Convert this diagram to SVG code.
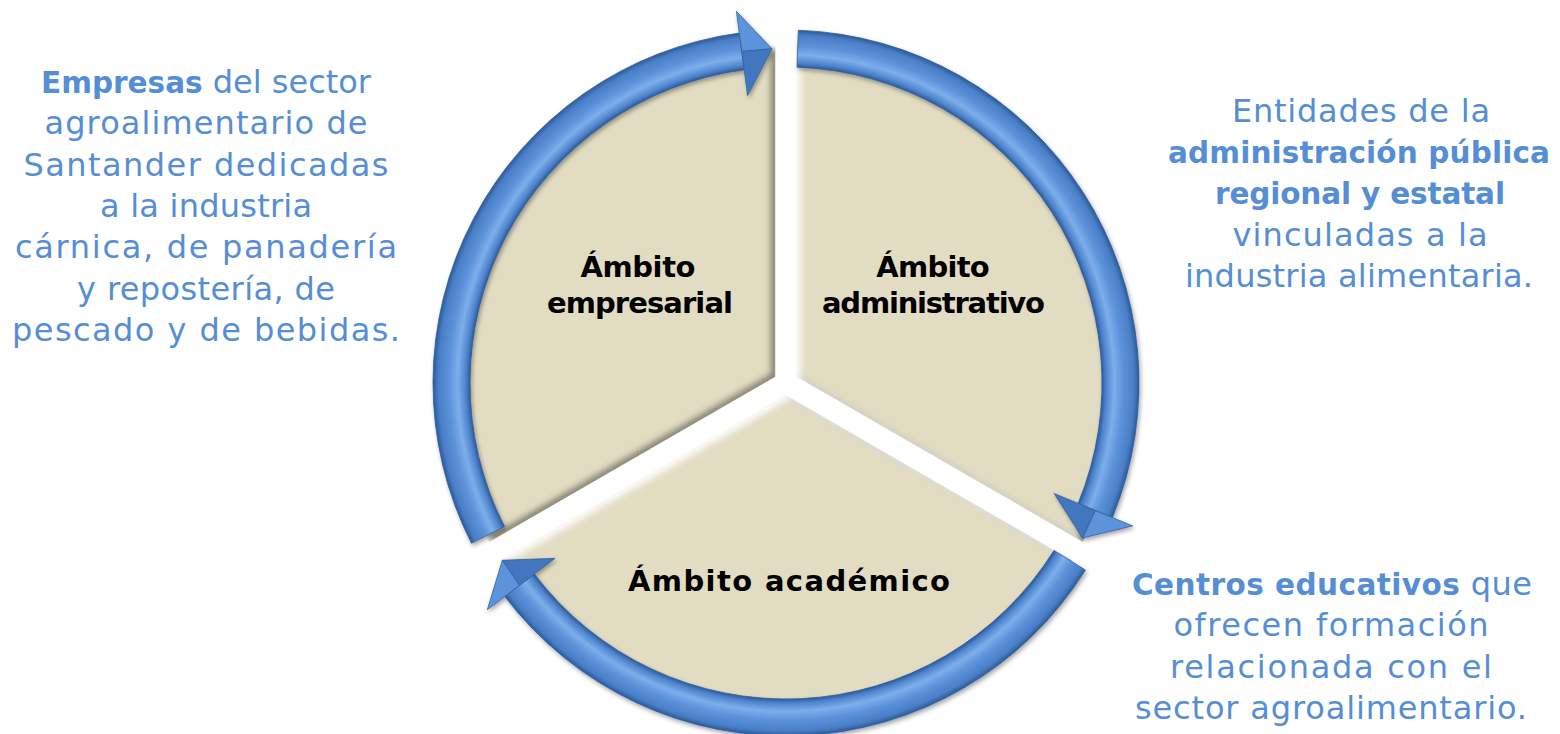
<svg xmlns="http://www.w3.org/2000/svg" width="1560" height="734" viewBox="0 0 1560 734">
  <defs>
    <style>
      .sector { fill: #E2DDC2; filter: url(#bevel); }
      .label { font-family: "DejaVu Sans", "Liberation Sans", sans-serif; font-weight: bold; font-size: 29px; fill: #000; text-anchor: middle; }
      .desc { font-family: "DejaVu Sans", "Liberation Sans", sans-serif; font-size: 32px; fill: #558ED5; text-anchor: middle; }
      .desc .b { font-weight: bold; font-size: 29.5px; }
      .body { fill: url(#tube); stroke: #2F5E9F; stroke-width: 0.8; }
      .headOut { fill: #5C93DB; stroke: #33619F; stroke-width: 0.8; stroke-linejoin: round; }
      .headIn { fill: #4276BF; stroke: #33619F; stroke-width: 0.8; stroke-linejoin: round; }
    </style>
    <radialGradient id="tube" gradientUnits="userSpaceOnUse" cx="786" cy="383" r="353">
      <stop offset="0.895" stop-color="#2E5A99"/>
      <stop offset="0.907" stop-color="#4D83CC"/>
      <stop offset="0.93" stop-color="#7DAEEB"/>
      <stop offset="0.955" stop-color="#5C92DA"/>
      <stop offset="0.985" stop-color="#4A7FC7"/>
      <stop offset="1" stop-color="#2C5A98"/>
    </radialGradient>
    <filter id="bevel" x="-5%" y="-5%" width="110%" height="110%">
      <feGaussianBlur in="SourceAlpha" stdDeviation="3" result="b"/>
      <feOffset in="b" dx="-5" dy="-3" result="o1"/>
      <feComposite in="SourceAlpha" in2="o1" operator="out" result="inv1"/>
      <feFlood flood-color="#3a382e" flood-opacity="0.75"/>
      <feComposite in2="inv1" operator="in" result="shadow"/>
      <feOffset in="b" dx="4" dy="3" result="o2"/>
      <feComposite in="SourceAlpha" in2="o2" operator="out" result="inv2"/>
      <feFlood flood-color="#ffffff" flood-opacity="0.9"/>
      <feComposite in2="inv2" operator="in" result="hl"/>
      <feMerge>
        <feMergeNode in="SourceGraphic"/>
        <feMergeNode in="shadow"/>
        <feMergeNode in="hl"/>
      </feMerge>
    </filter>
    <filter id="ringShadow" x="-10%" y="-10%" width="120%" height="120%">
      <feDropShadow dx="1.5" dy="2.5" stdDeviation="2" flood-color="#000" flood-opacity="0.35"/>
    </filter>
  </defs>

  <rect width="1560" height="734" fill="#ffffff"/>

  <g id="node-empresarial">
    <path class="sector" d="M775.2 376.75 L489.41 541.75 A330 330 0 0 1 775.2 46.75 Z"/>
    <text class="label" x="638" y="277" textLength="115">Ámbito</text>
    <text class="label" x="640" y="312.5" textLength="186">empresarial</text>
  </g>

  <g id="node-administrativo">
    <path class="sector" d="M796.8 376.75 L796.8 46.75 A330 330 0 0 1 1082.59 541.75 Z"/>
    <text class="label" x="933" y="277" textLength="113.5">Ámbito</text>
    <text class="label" x="933.5" y="312.5" textLength="223">administrativo</text>
  </g>

  <g id="node-academico">
    <path class="sector" d="M786 395.5 L1071.79 560.5 A330 330 0 0 1 500.21 560.5 Z"/>
    <text class="label" x="789" y="591" textLength="322">Ámbito académico</text>
  </g>

  <g id="connectors" filter="url(#ringShadow)">
    <g id="arrow-empresarial-administrativo">
      <path class="body" d="M471.47 543.26 A353 353 0 0 1 739.31 33.10 L744.21 69.78 A316 316 0 0 0 504.44 526.46 Z"/>
      <polygon class="headOut" points="736.40,11.30 771.99,48.79 741.76,51.44"/>
      <polygon class="headIn" points="741.76,51.44 771.99,48.79 747.64,95.55"/>
    </g>
    <g id="arrow-administrativo-academico">
      <path class="body" d="M798.32 30.22 A353 353 0 0 1 1112.37 517.52 L1078.16 503.42 A316 316 0 0 0 797.03 67.19 Z"/>
      <polygon class="headOut" points="1132.71,525.90 1082.43,537.97 1095.26,510.47"/>
      <polygon class="headIn" points="1095.26,510.47 1082.43,537.97 1054.12,493.51"/>
    </g>
    <g id="arrow-academico-empresarial">
      <path class="body" d="M1085.36 570.06 A353 353 0 0 1 504.82 596.42 L534.30 574.05 A316 316 0 0 0 1053.98 550.45 Z"/>
      <polygon class="headOut" points="487.30,609.73 502.35,560.25 519.56,585.24"/>
      <polygon class="headIn" points="519.56,585.24 502.35,560.25 555.00,558.33"/>
    </g>
  </g>

  <g id="desc-empresarial">
    <text class="desc" x="206" y="93" textLength="330"><tspan class="b">Empresas</tspan> del sector</text>
    <text class="desc" x="206" y="134.3" textLength="323">agroalimentario de</text>
    <text class="desc" x="206" y="175.6" textLength="365">Santander dedicadas</text>
    <text class="desc" x="206" y="216.9" textLength="212">a la industria</text>
    <text class="desc" x="206" y="258.2" textLength="382">cárnica, de panadería</text>
    <text class="desc" x="206" y="299.5" textLength="258">y repostería, de</text>
    <text class="desc" x="206" y="340.8" textLength="388">pescado y de bebidas.</text>
  </g>

  <g id="desc-administrativo">
    <text class="desc" x="1361" y="121.7" textLength="258">Entidades de la</text>
    <text class="desc" x="1359" y="163" textLength="382"><tspan class="b">administración pública</tspan></text>
    <text class="desc" x="1360" y="204.3" textLength="290"><tspan class="b">regional y estatal</tspan></text>
    <text class="desc" x="1360" y="245.6" textLength="255">vinculadas a la</text>
    <text class="desc" x="1359" y="286.9" textLength="348">industria alimentaria.</text>
  </g>

  <g id="desc-academico">
    <text class="desc" x="1332" y="595" textLength="400"><tspan class="b">Centros educativos</tspan> que</text>
    <text class="desc" x="1331" y="636.3" textLength="315">ofrecen formación</text>
    <text class="desc" x="1331" y="677.6" textLength="322">relacionada con el</text>
    <text class="desc" x="1331" y="718.9" textLength="392">sector agroalimentario.</text>
  </g>
</svg>
